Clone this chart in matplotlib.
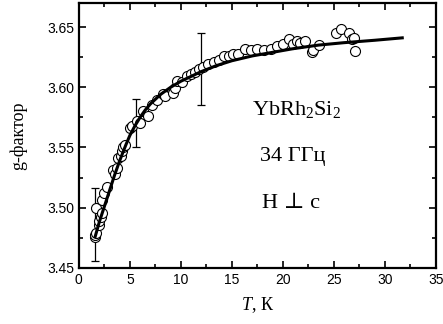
import matplotlib.pyplot as plt
from matplotlib.ticker import MultipleLocator

# measured points (open circles)
t_pts = [1.55, 1.6, 1.65, 1.7, 1.97, 2.0, 2.16, 2.26, 2.3, 2.46, 2.75,
         3.35, 3.5, 3.7, 3.85, 4.1, 4.2, 4.3, 4.5, 5.0, 5.2, 5.7, 6.0,
         6.3, 6.8, 7.2, 7.65, 8.2, 8.45, 9.2, 9.4, 9.6, 10.1, 10.6, 11.0,
         11.4, 11.8, 12.2, 12.7, 13.2, 13.7, 14.2, 14.7, 15.1, 15.6, 16.3,
         16.9, 17.5, 18.1, 18.8, 19.4, 20.0, 20.6, 21.0, 21.4, 21.7, 22.2,
         22.9, 23.0, 23.5, 25.2, 25.7, 26.5, 26.8, 27.0, 27.1]
g_pts = [3.476, 3.477, 3.479, 3.4996, 3.4855, 3.489, 3.492, 3.506, 3.496,
         3.512, 3.517, 3.531, 3.528, 3.533, 3.541, 3.543, 3.547, 3.550,
         3.552, 3.566, 3.568, 3.572, 3.570, 3.580, 3.576, 3.585, 3.589,
         3.594, 3.593, 3.595, 3.599, 3.605, 3.604, 3.609, 3.611, 3.613,
         3.615, 3.617, 3.619, 3.621, 3.623, 3.626, 3.626, 3.628, 3.628,
         3.632, 3.631, 3.632, 3.631, 3.632, 3.634, 3.636, 3.640, 3.636,
         3.638, 3.637, 3.638, 3.629, 3.631, 3.635, 3.645, 3.648, 3.645,
         3.640, 3.641, 3.630]

# fit curve
t_fit = [1.6, 2.0, 2.5, 3.0, 3.5, 4.0, 4.6, 5.0, 5.5, 6.0, 6.5, 7.0, 7.5,
         8.0, 9.0, 10.0, 11.0, 12.0, 13.5, 15, 17, 19, 21, 23.5, 26, 29,
         31.7]
g_fit = [3.476, 3.488, 3.501, 3.514, 3.527, 3.539, 3.552, 3.560, 3.568,
         3.575, 3.581, 3.586, 3.590, 3.594, 3.600, 3.605, 3.609, 3.613,
         3.618, 3.622, 3.626, 3.629, 3.632, 3.635, 3.637, 3.639, 3.641]

# error bars
t_err = [1.6, 5.6, 12.0]
g_err = [3.486, 3.570, 3.6154]
dg_err = [0.030, 0.020, 0.030]

serif = ['Liberation Serif', 'DejaVu Serif']
plt.rcParams['font.family'] = 'Liberation Sans'
plt.rcParams['mathtext.fontset'] = 'custom'
plt.rcParams['mathtext.rm'] = 'Liberation Serif'
plt.rcParams['mathtext.it'] = 'Liberation Serif:italic'

fig = plt.figure(figsize=(4.43, 3.24), dpi=100)
ax = fig.add_axes([0.178, 0.173, 0.806, 0.818])

ax.errorbar(t_err, g_err, yerr=dg_err, fmt='none', ecolor='black',
            elinewidth=0.9, capsize=3, capthick=0.9, zorder=2)
ax.plot(t_pts, g_pts, 'o', mfc='white', mec='black', ms=7.2, mew=0.8,
        zorder=3)
ax.plot(t_fit, g_fit, '-', color='black', lw=2.2, zorder=4)

ax.set_xlim(0, 35)
ax.set_ylim(3.45, 3.67)
ax.xaxis.set_major_locator(MultipleLocator(5))
ax.xaxis.set_minor_locator(MultipleLocator(2.5))
ax.yaxis.set_major_locator(MultipleLocator(0.05))
ax.yaxis.set_minor_locator(MultipleLocator(0.025))
ax.yaxis.set_major_formatter(plt.FormatStrFormatter('%.2f'))
ax.tick_params(which='both', direction='in', top=True, right=True,
               labelsize=10, width=1.2)
ax.tick_params(which='major', length=5)
ax.tick_params(which='minor', length=3)
for s in ax.spines.values():
    s.set_linewidth(1.6)

ax.set_xlabel('$T$, К', family=serif, fontsize=13, labelpad=6)
ax.set_ylabel('g-фактор', family=serif, fontsize=13, labelpad=14)

ax.text(0.61, 0.596, 'YbRh$_\\mathrm{2}$Si$_\\mathrm{2}$',
        transform=ax.transAxes, family=serif, fontsize=16,
        ha='center', va='center')
ax.text(0.60, 0.419, '34 ГГц', transform=ax.transAxes,
        family=serif, fontsize=16, ha='center', va='center')
ax.text(0.595, 0.245, 'H ⊥ c', transform=ax.transAxes,
        family=serif, fontsize=16, ha='center', va='center')

fig.savefig('out.png', dpi=100)
